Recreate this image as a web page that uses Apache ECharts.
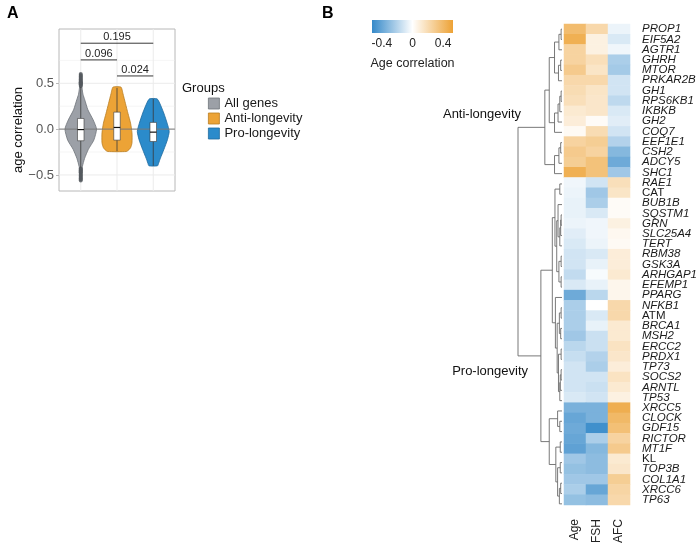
<!DOCTYPE html>
<html><head><meta charset="utf-8">
<script src="https://cdn.jsdelivr.net/npm/echarts@6/dist/echarts.min.js"></script>
<style>html,body{margin:0;padding:0;background:#fff}#c{width:700px;height:546px}</style>
</head><body><div id="c"></div><script>
const FONT = '"Liberation Sans", Arial, Helvetica, sans-serif';

// ---------------- Panel A data ----------------
const groups = ['All genes', 'Anti-longevity', 'Pro-longevity'];
const groupPos = [1, 2, 3];
const groupFill = ['#9ca0a7', '#eca336', '#2b8bcb'];
const groupEdge = ['#6f737a', '#b97d22', '#1f6b9f'];

// violin outlines: y value and relative density (0..1)
const allGenesY    = [0.60, 0.52, 0.45, 0.38, 0.32, 0.21, 0.10, 0.00, -0.12, -0.22, -0.32, -0.41, -0.48, -0.56];
const allGenesDens = [0.02, 0.05, 0.08, 0.14, 0.25, 0.45, 0.78, 0.99, 0.82, 0.48, 0.24, 0.10, 0.05, 0.02];
const antiY        = [0.46, 0.43, 0.39, 0.28, 0.17, 0.065, -0.04, -0.15, -0.20, -0.225, -0.244];
const antiDens     = [0.24, 0.32, 0.37, 0.53, 0.69, 0.85, 0.94, 0.94, 0.86, 0.75, 0.59];
const proY         = [0.33, 0.285, 0.175, 0.065, -0.025, -0.115, -0.225, -0.316, -0.37, -0.40];
const proDens      = [0.24, 0.40, 0.66, 0.87, 1.00, 0.89, 0.66, 0.45, 0.34, 0.27];

// boxplot stats: [lower whisker, Q1, median, Q3, upper whisker]
const boxStats = [
  [-0.42, -0.127, -0.005, 0.116, 0.46],
  [-0.24, -0.12, 0.018, 0.185, 0.45],
  [-0.40, -0.135, -0.033, 0.073, 0.33]
];
const allGenesOutliers = [0.47, 0.48, 0.49, 0.50, 0.505, 0.51, 0.52, 0.53, 0.54, 0.55, 0.56, 0.57, 0.58, 0.59, 0.60,
  -0.43, -0.44, -0.45, -0.46, -0.47, -0.48, -0.49, -0.50, -0.51, -0.52, -0.53, -0.54, -0.55, -0.56];

// significance brackets: [from group, to group, height, label]
const sigBrackets = [[1, 3, 0.937, '0.195'], [1, 2, 0.755, '0.096'], [2, 3, 0.58, '0.024']];

const yMajor = [-0.5, 0, 0.5];
const yMinor = [-0.25, 0.25, 0.75];

// ---------------- Panel B data ----------------
const conditions = ['Age', 'FSH', 'AFC'];
const genes = ['PROP1','EIF5A2','AGTR1','GHRH','MTOR','PRKAR2B','GH1','RPS6KB1','IKBKB','GH2','COQ7','EEF1E1','CSH2','ADCY5','SHC1',
  'RAE1','CAT','BUB1B','SQSTM1','GRN','SLC25A4','TERT','RBM38','GSK3A','ARHGAP1','EFEMP1','PPARG','NFKB1','ATM','BRCA1','MSH2',
  'ERCC2','PRDX1','TP73','SOCS2','ARNTL','TP53','XRCC5','CLOCK','GDF15','RICTOR','MT1F','KL','TOP3B','COL1A1','XRCC6','TP63'];
const uprightGenes = ['CAT', 'ATM', 'KL'];
const ageCorr = [0.38,0.45,0.25,0.25,0.30,0.22,0.20,0.18,0.12,0.10,0.03,0.25,0.30,0.28,0.45,
  -0.04,-0.05,-0.06,-0.06,-0.05,-0.08,-0.10,-0.12,-0.12,-0.16,-0.10,-0.38,-0.22,-0.22,-0.22,-0.25,
  -0.18,-0.15,-0.12,-0.12,-0.12,-0.10,-0.35,-0.40,-0.38,-0.40,-0.42,-0.25,-0.28,-0.25,-0.22,-0.28];
const fshCorr = [0.22,0.08,0.08,0.18,0.15,0.22,0.15,0.14,0.14,0.02,0.20,0.28,0.25,0.35,0.35,
  -0.12,-0.25,-0.22,-0.10,-0.04,-0.04,-0.05,-0.10,-0.06,-0.02,-0.06,-0.18,0.00,-0.10,-0.06,-0.14,
  -0.14,-0.20,-0.22,-0.12,-0.14,-0.12,-0.35,-0.35,-0.50,-0.22,-0.32,-0.30,-0.30,-0.25,-0.40,-0.30];
const afcCorr = [-0.05,-0.10,-0.04,-0.22,-0.24,-0.12,-0.12,-0.17,-0.10,-0.08,-0.12,-0.20,-0.32,-0.38,-0.25,
  0.18,0.15,0.02,0.02,0.08,0.04,0.03,0.10,0.10,0.12,0.05,0.05,0.22,0.22,0.12,0.12,
  0.16,0.14,0.10,0.16,0.12,0.08,0.46,0.40,0.36,0.25,0.30,0.12,0.14,0.28,0.24,0.22];
const colorbarRange = [-0.53, 0.53];
const colorbarTicks = [-0.4, -0.2, 0, 0.2, 0.4];
const colorbarLabels = [-0.4, 0, 0.4];

// hierarchical clustering merges: [left, right, height]; node k is named 'n'+k
const merges = [
  ['PROP1','EIF5A2',0.02], ['n0','AGTR1',0.07], ['GHRH','MTOR',0.03], ['n2','PRKAR2B',0.08],
  ['n1','n3',0.17], ['GH1','RPS6KB1',0.02], ['n5','IKBKB',0.05], ['n6','GH2',0.09], ['n7','COQ7',0.17],
  ['n4','n8',0.29], ['EEF1E1','CSH2',0.03], ['n10','ADCY5',0.07], ['n11','SHC1',0.17], ['n9','n12',0.39],
  ['RAE1','CAT',0.05], ['SQSTM1','GRN',0.02], ['n15','SLC25A4',0.03], ['n16','TERT',0.05], ['BUB1B','n17',0.09],
  ['RBM38','GSK3A',0.02], ['ARHGAP1','EFEMP1',0.02], ['n19','n20',0.07], ['n18','n21',0.12], ['n14','n22',0.16],
  ['NFKB1','ATM',0.02], ['BRCA1','MSH2',0.03], ['n24','n25',0.06], ['ERCC2','PRDX1',0.02], ['TP73','SOCS2',0.02],
  ['n28','ARNTL',0.04], ['n29','TP53',0.05], ['n27','n30',0.08], ['n26','n31',0.11], ['PPARG','n32',0.15],
  ['n23','n33',0.22], ['CLOCK','GDF15',0.05], ['XRCC5','n35',0.10], ['RICTOR','MT1F',0.04], ['KL','TOP3B',0.04],
  ['COL1A1','XRCC6',0.03], ['n39','TP63',0.06], ['n38','n40',0.10], ['n37','n41',0.14], ['n36','n42',0.29],
  ['n34','n43',0.48], ['n13','n44',1.0]
];

// ---------------- build ----------------
const BLUE = '#3589c9', ORANGE = '#eda235';
const VIOLIN_HALF = 0.44;
const violinData = [[allGenesY, allGenesDens], [antiY, antiDens], [proY, proDens]];

const leafIndex = {}; genes.forEach((g, i) => leafIndex[g] = i);
const nodePos = {};
function posOf(name) { return (name in leafIndex) ? [0, leafIndex[name]] : nodePos[name]; }
const dendroPaths = merges.map((m, k) => {
  const a = posOf(m[0]), b = posOf(m[1]), h = m[2];
  nodePos['n' + k] = [h, (a[1] + b[1]) / 2];
  return [[a[0], a[1]], [h, a[1]], [h, b[1]], [b[0], b[1]]];
});

const heatData = [];
const colVals = [ageCorr, fshCorr, afcCorr];
genes.forEach((g, r) => colVals.forEach((vals, c) => heatData.push([c, r, vals[r]])));

const chart = echarts.init(document.getElementById('c'), null, {renderer: 'canvas'});

const series = [];
// panel A grid lines
const gridLines = yMajor.map(v => ['h', v, 1]).concat(yMinor.map(v => ['h', v, 0.5])).concat(groupPos.map(v => ['v', v, 1]));
series.push({
  type: 'custom', xAxisIndex: 0, yAxisIndex: 0, silent: true, z: 1,
  data: gridLines.map((g, i) => [i]),
  renderItem: (params, api) => {
    const g = gridLines[params.dataIndex];
    const cs = params.coordSys;
    if (g[0] === 'h') {
      const p = api.coord([1, g[1]]);
      return {type: 'line', shape: {x1: cs.x, y1: p[1], x2: cs.x + cs.width, y2: p[1]}, style: {stroke: '#ebebeb', lineWidth: g[2]}};
    }
    const p = api.coord([g[1], 0]);
    return {type: 'line', shape: {x1: p[0], y1: cs.y, x2: p[0], y2: cs.y + cs.height}, style: {stroke: '#ebebeb', lineWidth: g[2]}};
  }
});
// violins
groups.forEach((name, gi) => {
  series.push({
    name: name, type: 'custom', xAxisIndex: 0, yAxisIndex: 0, z: 2, silent: true,
    itemStyle: {color: groupFill[gi], borderColor: groupEdge[gi]},
    data: [[groupPos[gi], 0]],
    renderItem: (params, api) => {
      const ys = violinData[gi][0], ds = violinData[gi][1];
      const right = [], left = [];
      for (let k = 0; k < ys.length; k++) {
        right.push(api.coord([groupPos[gi] + ds[k] * VIOLIN_HALF, ys[k]]));
        left.push(api.coord([groupPos[gi] - ds[k] * VIOLIN_HALF, ys[k]]));
      }
      return {type: 'polygon', shape: {points: right.concat(left.reverse()), smooth: 0.2},
        style: {fill: groupFill[gi], stroke: groupEdge[gi], lineWidth: 0.8}};
    }
  });
});
// zero line
series.push({
  type: 'custom', xAxisIndex: 0, yAxisIndex: 0, z: 3, silent: true, data: [[0]],
  renderItem: (params, api) => {
    const cs = params.coordSys; const p = api.coord([1, 0]);
    return {type: 'line', shape: {x1: cs.x, y1: p[1], x2: cs.x + cs.width, y2: p[1]}, style: {stroke: '#7a7a7a', lineWidth: 1}};
  }
});
// outliers
series.push({
  type: 'scatter', xAxisIndex: 0, yAxisIndex: 0, z: 4, silent: true, symbolSize: 4,
  itemStyle: {color: '#555a5f'},
  data: allGenesOutliers.map(v => [groupPos[0], v])
});
// boxes
series.push({
  type: 'custom', xAxisIndex: 0, yAxisIndex: 0, z: 5, silent: true,
  data: boxStats.map((b, i) => [groupPos[i], b[2]]),
  renderItem: (params, api) => {
    const i = params.dataIndex, b = boxStats[i], x = groupPos[i], hw = 0.09;
    const wl = api.coord([x, b[0]]), q1 = api.coord([x - hw, b[1]]), q3 = api.coord([x + hw, b[3]]), wu = api.coord([x, b[4]]);
    const md1 = api.coord([x - hw, b[2]]), md2 = api.coord([x + hw, b[2]]);
    const stroke = '#3a3a3a';
    return {type: 'group', children: [
      {type: 'line', shape: {x1: wl[0], y1: wl[1], x2: wl[0], y2: q1[1]}, style: {stroke: stroke, lineWidth: 0.8}},
      {type: 'line', shape: {x1: wu[0], y1: wu[1], x2: wu[0], y2: q3[1]}, style: {stroke: stroke, lineWidth: 0.8}},
      {type: 'rect', shape: {x: q1[0], y: q3[1], width: q3[0] - q1[0], height: q1[1] - q3[1]}, style: {fill: '#ffffff', stroke: stroke, lineWidth: 0.6}},
      {type: 'line', shape: {x1: md1[0], y1: md1[1], x2: md2[0], y2: md2[1]}, style: {stroke: '#111', lineWidth: 1.2}}
    ]};
  }
});
// significance brackets
series.push({
  type: 'custom', xAxisIndex: 0, yAxisIndex: 0, z: 6, silent: true,
  data: sigBrackets.map(s => [s[0], s[2]]),
  renderItem: (params, api) => {
    const s = sigBrackets[params.dataIndex];
    const p1 = api.coord([s[0], s[2]]), p2 = api.coord([s[1], s[2]]);
    return {type: 'group', children: [
      {type: 'line', shape: {x1: p1[0], y1: p1[1], x2: p2[0], y2: p2[1]}, style: {stroke: '#222', lineWidth: 0.9}},
      {type: 'text', style: {x: (p1[0] + p2[0]) / 2, y: p1[1] - 6, text: s[3], align: 'center', verticalAlign: 'middle',
        fill: '#222', font: '11px ' + FONT}}
    ]};
  }
});
// colorbar
series.push({
  type: 'custom', xAxisIndex: 1, yAxisIndex: 1, z: 2, silent: true,
  data: [[colorbarRange[0], 0]],
  renderItem: (params, api) => {
    const a = api.coord([colorbarRange[0], 1]), b = api.coord([colorbarRange[1], 0]);
    return {type: 'rect', shape: {x: a[0], y: a[1], width: b[0] - a[0], height: b[1] - a[1]},
      style: {fill: new echarts.graphic.LinearGradient(0, 0, 1, 0, [
        {offset: 0, color: BLUE}, {offset: 0.5, color: '#ffffff'}, {offset: 1, color: ORANGE}])}};
  }
});
// dendrogram
series.push({
  type: 'custom', xAxisIndex: 2, yAxisIndex: 2, z: 2, silent: true,
  data: dendroPaths.map((p, i) => [p[1][0], p[1][1]]),
  renderItem: (params, api) => {
    const pts = dendroPaths[params.dataIndex].map(p => api.coord(p));
    return {type: 'polyline', shape: {points: pts}, style: {stroke: '#6a6a6a', lineWidth: 0.9, fill: null}};
  }
});
// heatmap
const heatIndex = series.length;
series.push({
  type: 'heatmap', xAxisIndex: 3, yAxisIndex: 3, data: heatData, silent: true,
  itemStyle: {borderWidth: 0}, emphasis: {disabled: true}, progressive: 0
});

const axisHidden = {show: false};
const option = {
  backgroundColor: '#ffffff',
  animation: false,
  textStyle: {fontFamily: FONT},
  grid: [
    {left: 59, top: 29, width: 116, height: 162, show: true, borderColor: '#b8b8b8', borderWidth: 1, backgroundColor: 'transparent'},
    {left: 372, top: 20, width: 81, height: 13},
    {left: 518, top: 24, width: 44, height: 485},
    {left: 564, top: 24, width: 67, height: 485}
  ],
  xAxis: [
    {gridIndex: 0, type: 'value', min: 0.4, max: 3.6, axisLabel: axisHidden, axisTick: axisHidden, axisLine: axisHidden, splitLine: axisHidden},
    {gridIndex: 1, type: 'value', min: colorbarRange[0], max: colorbarRange[1], position: 'bottom',
      axisLine: axisHidden, splitLine: axisHidden,
      axisTick: {show: true, inside: true, length: 3, customValues: colorbarTicks, lineStyle: {color: '#333', width: 1}},
      axisLabel: {customValues: colorbarLabels, formatter: v => (v === 0 ? '0' : String(v)), fontSize: 12, color: '#222', margin: 5, fontFamily: FONT},
      name: 'Age correlation', nameLocation: 'middle', nameGap: 24, nameTextStyle: {fontSize: 12.5, color: '#222', fontFamily: FONT}},
    {gridIndex: 2, type: 'value', min: 0, max: 1, inverse: true, show: false},
    {gridIndex: 3, type: 'category', data: conditions, position: 'bottom', axisLine: axisHidden, axisTick: axisHidden, splitLine: axisHidden,
      axisLabel: {rotate: 90, fontSize: 12, color: '#222', margin: 14, fontFamily: FONT, padding: [0, 0, 16, 0]}}
  ],
  yAxis: [
    {gridIndex: 0, type: 'value', min: -0.675, max: 1.092, axisLine: axisHidden, splitLine: axisHidden,
      axisTick: {show: true, length: 3, customValues: yMajor, lineStyle: {color: '#b8b8b8'}},
      axisLabel: {customValues: yMajor, fontSize: 13, color: '#555', margin: 5, fontFamily: FONT,
        formatter: v => (v < 0 ? '\u2212' + (-v).toFixed(1) : v.toFixed(1))}},
    {gridIndex: 1, type: 'value', min: 0, max: 1, show: false},
    {gridIndex: 2, type: 'value', min: -0.5, max: genes.length - 0.5, inverse: true, show: false},
    {gridIndex: 3, type: 'category', data: genes, inverse: true, position: 'right', axisLine: axisHidden, axisTick: axisHidden, splitLine: axisHidden,
      axisLabel: {interval: 0, margin: 12, fontSize: 11.5, color: '#1a1a1a', fontFamily: FONT,
        formatter: v => (uprightGenes.indexOf(v) >= 0 ? '{u|' + v + '}' : '{i|' + v + '}'),
        rich: {i: {fontStyle: 'italic', fontSize: 11.5, color: '#1a1a1a', fontFamily: FONT},
               u: {fontStyle: 'normal', fontSize: 11.5, color: '#1a1a1a', fontFamily: FONT}}}}
  ],
  visualMap: {type: 'continuous', show: false, min: colorbarRange[0], max: colorbarRange[1], seriesIndex: heatIndex, dimension: 2,
    inRange: {color: [BLUE, '#ffffff', ORANGE]}},
  legend: {
    orient: 'vertical', left: 203, top: 92, itemWidth: 11, itemHeight: 11, itemGap: 2, icon: 'rect',
    textStyle: {fontSize: 13, color: '#1a1a1a', fontFamily: FONT},
    data: groups.map((g, i) => ({name: g, itemStyle: {color: groupFill[i], borderColor: groupEdge[i], borderWidth: 0.8}})),
    selectedMode: false
  },
  graphic: [
    {type: 'text', left: 7, top: 6, style: {text: 'A', font: 'bold 16px ' + FONT, fill: '#000'}},
    {type: 'text', left: 322, top: 6, style: {text: 'B', font: 'bold 16px ' + FONT, fill: '#000'}},
    {type: 'text', x: 18, y: 130, rotation: Math.PI / 2,
      style: {text: 'age correlation', font: '13px ' + FONT, fill: '#111', align: 'center', verticalAlign: 'middle'}},
    {type: 'text', x: 182, y: 88, style: {text: 'Groups', font: '13px ' + FONT, fill: '#111', verticalAlign: 'middle'}},
    {type: 'text', x: 521, y: 114, style: {text: 'Anti-longevity', font: '13px ' + FONT, fill: '#111', align: 'right', verticalAlign: 'middle'}},
    {type: 'text', x: 528, y: 371, style: {text: 'Pro-longevity', font: '13px ' + FONT, fill: '#111', align: 'right', verticalAlign: 'middle'}}
  ],
  series: series
};
chart.setOption(option);
</script></body></html>
